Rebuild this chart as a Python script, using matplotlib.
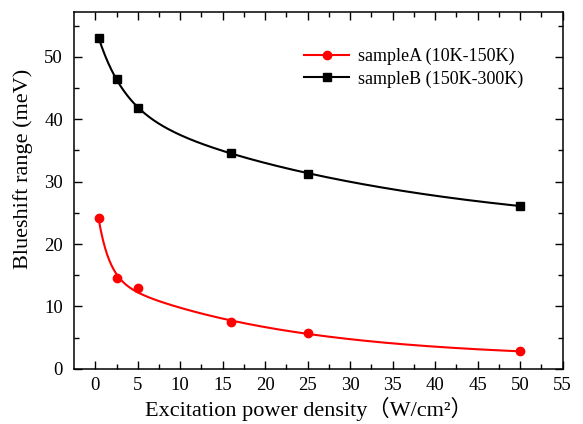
import numpy as np
import matplotlib
matplotlib.use("Agg")
import matplotlib.pyplot as plt

plt.rcParams['font.family'] = ['Liberation Serif', 'DejaVu Serif']

# power density (W/cm2)
power = [0.4, 2.5, 5, 16, 25, 50]
# blueshift range (meV)
sampleA = [24.1, 14.5, 13.0, 7.5, 5.7, 2.8]
sampleB = [53.0, 46.5, 41.8, 34.6, 31.3, 26.1]

labelA = "sampleA (10K-150K)"
labelB = "sampleB (150K-300K)"


def fit_decay(x, y, tmin):
    """double exponential decay fit, grid search on the time constants"""
    x = np.asarray(x, float)
    y = np.asarray(y, float)
    best = None
    for t1 in np.linspace(tmin, 6, 40):
        for t2 in np.linspace(6, 80, 60):
            M = np.column_stack([np.ones_like(x), np.exp(-x / t1), np.exp(-x / t2)])
            coef, *_ = np.linalg.lstsq(M, y, rcond=None)
            err = np.sum((M @ coef - y) ** 2)
            if best is None or err < best[0]:
                best = (err, t1, t2, coef)
    _, t1, t2, c = best
    return lambda xx: c[0] + c[1] * np.exp(-xx / t1) + c[2] * np.exp(-xx / t2)


fig, ax = plt.subplots(figsize=(5.83, 4.24), dpi=100)
fig.subplots_adjust(left=0.127, right=0.965, top=0.972, bottom=0.13)

xs = np.linspace(power[0], power[-1], 400)
fA = fit_decay(power, sampleA, 1.3)
fB = fit_decay(power, sampleB, 1.0)

ax.plot(xs, fA(xs), color='red', lw=1.5)
ax.plot(xs, fB(xs), color='black', lw=1.5)
ax.plot(power, sampleA, 'o', color='red', ms=6)
ax.plot(power, sampleB, 's', color='black', ms=5.5)

# legend handles: line + marker
ax.plot([], [], '-o', color='red', ms=6, lw=1.5, label=labelA)
ax.plot([], [], '-s', color='black', ms=5.5, lw=1.5, label=labelB)
ax.legend(loc='upper left', bbox_to_anchor=(0.438, 0.945), frameon=False,
          fontsize=13, handlelength=2.5, handletextpad=0.45, labelspacing=0.3)

ax.set_xlim(-2.5, 55)
ax.set_ylim(0, 57.2)
ax.set_xticks(range(0, 56, 5))
ax.set_xticks(np.arange(2.5, 55, 5), minor=True)
ax.set_yticks(range(0, 51, 10))
ax.set_yticks(range(5, 56, 10), minor=True)
ax.tick_params(which='both', direction='in', top=True, right=True, labelsize=13.5)
ax.tick_params(which='major', length=6, width=1, pad=6)
ax.tick_params(which='minor', length=3.5, width=1)
ax.tick_params(axis='y', which='major', pad=8)
for s in ax.spines.values():
    s.set_linewidth(1.1)

ax.set_xlabel('Excitation power density\uff08W/cm\u00b2\uff09', fontsize=16,
              family=['Liberation Serif', 'Noto Sans CJK SC'])
ax.xaxis.set_label_coords(0.48, -0.08)
ax.xaxis.label.set_va('top')
ax.set_ylabel('Blueshift range (meV)', fontsize=16)
ax.yaxis.set_label_coords(-0.085, 0.56)

fig.savefig('out.png', dpi=100)
